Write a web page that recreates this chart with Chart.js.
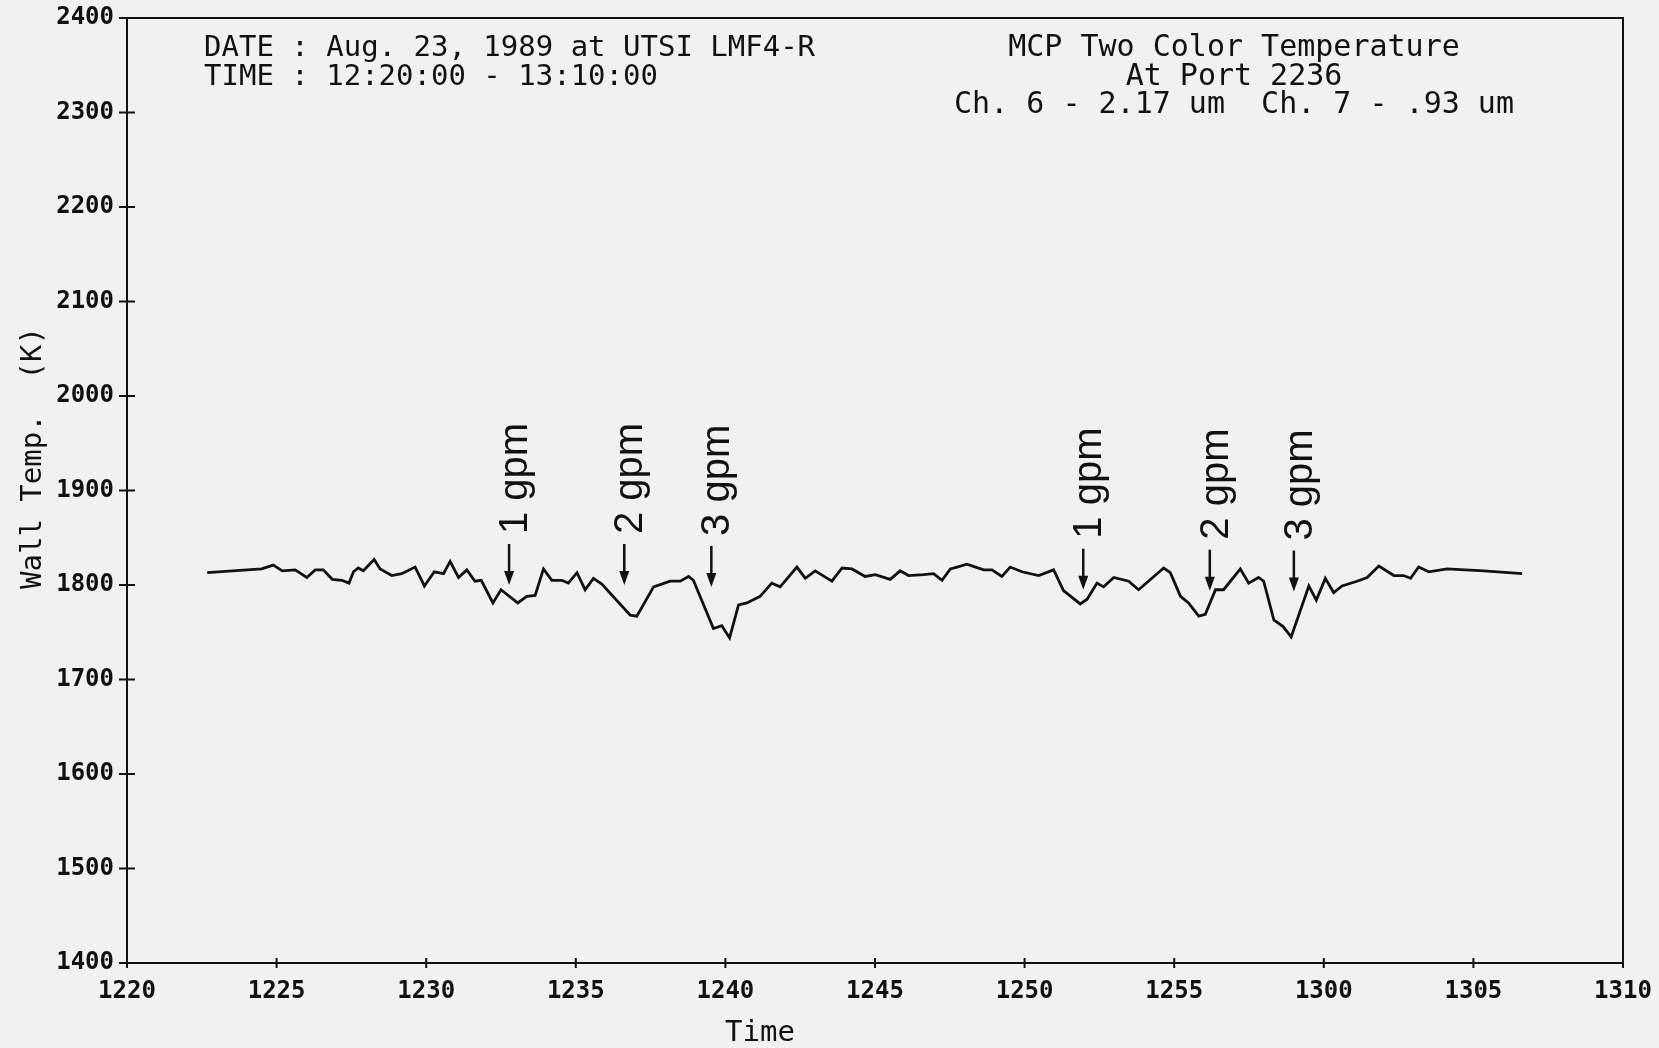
<!DOCTYPE html>
<html>
<head>
<meta charset="utf-8">
<script src="https://cdn.jsdelivr.net/npm/chart.js@4/dist/chart.umd.min.js"></script>
<style>
  html, body { margin: 0; padding: 0; background: #f1f1f1; }
  canvas { display: block; }
</style>
</head>
<body>
<canvas id="wallTemp" width="1659" height="1048"></canvas>
<script>
// Two-colour pyrometer wall temperature, sampled over the run.
// Times are minutes after 12:00; temperatures in kelvin.
const sampleTimes = [
  22.68, 24.50, 24.89, 25.19, 25.62, 26.01, 26.29, 26.56, 26.86, 27.18,
  27.42, 27.57, 27.73, 27.90, 28.26, 28.46, 28.85, 29.18, 29.63, 29.94,
  30.27, 30.58, 30.80, 31.08, 31.36, 31.63, 31.84, 32.23, 32.50, 33.06,
  33.36, 33.64, 33.92, 34.20, 34.53, 34.75, 35.04, 35.31, 35.59, 35.87,
  36.82, 37.04, 37.60, 38.15, 38.49, 38.77, 38.93, 39.60, 39.88, 40.14,
  40.44, 40.72, 41.16, 41.55, 41.83, 42.39, 42.67, 43.00, 43.56, 43.90,
  44.23, 44.67, 45.01, 45.51, 45.84, 46.12, 46.62, 46.96, 47.24, 47.52,
  47.74, 48.07, 48.63, 48.91, 49.24, 49.52, 49.91, 50.47, 50.97, 51.30,
  51.86, 52.09, 52.42, 52.64, 52.98, 53.48, 53.81, 54.65, 54.87, 55.21,
  55.48, 55.82, 56.04, 56.38, 56.65, 57.21, 57.49, 57.82, 57.99, 58.33,
  58.64, 58.91, 59.50, 59.75, 60.05, 60.33, 60.61, 61.11, 61.45, 61.84,
  62.34, 62.67, 62.90, 63.17, 63.51, 64.12, 65.35, 66.63
];
const wallTemps = [
  1813, 1817, 1821, 1815, 1816, 1808, 1816, 1816, 1806, 1805,
  1802, 1814, 1818, 1815, 1827, 1817, 1810, 1812, 1819, 1799,
  1814, 1812, 1825, 1808, 1816, 1804, 1805, 1781, 1795, 1781,
  1788, 1789, 1817, 1805, 1805, 1802, 1813, 1795, 1807, 1801,
  1768, 1767, 1798, 1804, 1804, 1809, 1805, 1754, 1757, 1744,
  1779, 1781, 1788, 1802, 1798, 1819, 1807, 1815, 1804, 1818,
  1817, 1809, 1811, 1806, 1815, 1810, 1811, 1812, 1805, 1817,
  1819, 1822, 1816, 1816, 1809, 1819, 1814, 1810, 1816, 1794,
  1780, 1785, 1802, 1798, 1808, 1804, 1795, 1818, 1813, 1788,
  1781, 1767, 1769, 1795, 1795, 1817, 1802, 1808, 1804, 1763,
  1756, 1745, 1799, 1784, 1807, 1792, 1799, 1804, 1808, 1820,
  1810, 1810, 1807, 1819, 1814, 1817, 1815, 1812
];

// Axis ticks
const timeTicks = [20, 25, 30, 35, 40, 45, 50, 55, 60, 65, 70];
const timeTickLabels = ['1220', '1225', '1230', '1235', '1240', '1245',
                        '1250', '1255', '1300', '1305', '1310'];
const tempTicks = [1400, 1500, 1600, 1700, 1800, 1900, 2000, 2100, 2200, 2300, 2400];
const tempTickLabels = ['1400', '1500', '1600', '1700', '1800', '1900',
                        '2000', '2100', '2200', '2300', '2400'];

// Water flow changes marked on the trace
const flowTimes = [32.77, 36.62, 39.53, 51.96, 56.19, 59.00];
const flowTipTemps = [1800, 1800, 1798, 1795, 1794, 1793];
const flowLabels = ['1 gpm', '2 gpm', '3 gpm', '1 gpm', '2 gpm', '3 gpm'];

// Text blocks
const runInfo = ['DATE : Aug. 23, 1989 at UTSI LMF4-R', 'TIME : 12:20:00 - 13:10:00'];
const plotTitle = ['MCP Two Color Temperature', 'At Port 2236', 'Ch. 6 - 2.17 um  Ch. 7 - .93 um'];
const xTitle = 'Time';
const yTitle = 'Wall Temp.  (K)';

const INK = '#111111';
const PLOTTER_FONT = '"DejaVu Sans Mono", "Liberation Mono", monospace';
const LABEL_FONT = '"Liberation Sans", Arial, sans-serif';

const decorations = {
  id: 'decorations',
  afterDraw(chart) {
    const { ctx, chartArea: a, scales: { x, y } } = chart;
    ctx.save();
    ctx.strokeStyle = INK;
    ctx.fillStyle = INK;

    // frame
    ctx.lineWidth = 2;
    ctx.strokeRect(a.left, a.top, a.right - a.left, a.bottom - a.top);

    // cross-shaped tick marks
    ctx.beginPath();
    tempTicks.forEach(v => {
      const py = y.getPixelForValue(v);
      ctx.moveTo(a.left - 8, py); ctx.lineTo(a.left + 8, py);
    });
    timeTicks.forEach(v => {
      const px = x.getPixelForValue(v);
      ctx.moveTo(px, a.bottom - 5); ctx.lineTo(px, a.bottom + 5);
    });
    ctx.stroke();

    // flow-rate arrows with vertical labels
    const shaft = 41, head = 14, half = 5, gap = 10;
    flowTimes.forEach((t, i) => {
      const px = x.getPixelForValue(t);
      const tip = y.getPixelForValue(flowTipTemps[i]);
      const top = tip - shaft;
      ctx.lineWidth = 2.5;
      ctx.beginPath();
      ctx.moveTo(px, top); ctx.lineTo(px, tip - head + 2);
      ctx.stroke();
      ctx.beginPath();
      ctx.moveTo(px - half, tip - head);
      ctx.lineTo(px + half, tip - head);
      ctx.lineTo(px, tip);
      ctx.closePath();
      ctx.fill();

      ctx.save();
      ctx.translate(px + 18, top - gap);
      ctx.rotate(-Math.PI / 2);
      ctx.font = '40px ' + LABEL_FONT;
      ctx.textAlign = 'left';
      ctx.textBaseline = 'alphabetic';
      ctx.fillText(flowLabels[i], 0, 0);
      ctx.restore();
    });

    // run information and title
    ctx.font = '29px ' + PLOTTER_FONT;
    ctx.textBaseline = 'alphabetic';
    ctx.textAlign = 'left';
    runInfo.forEach((line, i) => ctx.fillText(line, a.left + 77, a.top + 38 + i * 28.5));
    ctx.font = '30px ' + PLOTTER_FONT;
    ctx.textAlign = 'center';
    plotTitle.forEach((line, i) => ctx.fillText(line, a.left + 1107, a.top + 38 + i * 28.5));

    // axis titles
    ctx.font = '29px ' + PLOTTER_FONT;
    ctx.textAlign = 'center';
    ctx.fillText(xTitle, a.left + 633, a.bottom + 78);
    ctx.save();
    ctx.translate(41, a.top + 440);
    ctx.rotate(-Math.PI / 2);
    ctx.fillText(yTitle, 0, 0);
    ctx.restore();

    ctx.restore();
  }
};

const tickFont = { family: PLOTTER_FONT, size: 24, weight: 'bold' };

new Chart(document.getElementById('wallTemp'), {
  type: 'line',
  data: {
    datasets: [{
      data: sampleTimes.map((t, i) => ({ x: t, y: wallTemps[i] })),
      borderColor: INK,
      borderWidth: 2.8,
      pointRadius: 0,
      tension: 0,
      fill: false
    }]
  },
  options: {
    responsive: false,
    animation: false,
    devicePixelRatio: 1,
    layout: { padding: { top: 18, right: 36, left: 0, bottom: 0 } },
    plugins: { legend: { display: false }, tooltip: { enabled: false } },
    scales: {
      x: {
        type: 'linear',
        min: 20, max: 70,
        afterBuildTicks: s => { s.ticks = timeTicks.map(v => ({ value: v })); },
        afterFit: s => { s.height = 85; s.paddingLeft = 0; s.paddingRight = 0; },
        ticks: {
          callback: (v) => timeTickLabels[timeTicks.indexOf(v)],
          font: tickFont, color: INK, padding: 14,
          maxRotation: 0, autoSkip: false
        },
        grid: { display: false, drawTicks: false },
        border: { display: false }
      },
      y: {
        type: 'linear',
        min: 1400, max: 2400,
        afterBuildTicks: s => { s.ticks = tempTicks.map(v => ({ value: v })); },
        afterFit: s => { s.width = 127; s.paddingTop = 0; s.paddingBottom = 0; },
        ticks: {
          callback: (v) => tempTickLabels[tempTicks.indexOf(v)],
          font: tickFont, color: INK, padding: 13, autoSkip: false
        },
        grid: { display: false, drawTicks: false },
        border: { display: false }
      }
    }
  },
  plugins: [decorations]
});
</script>
</body>
</html>
